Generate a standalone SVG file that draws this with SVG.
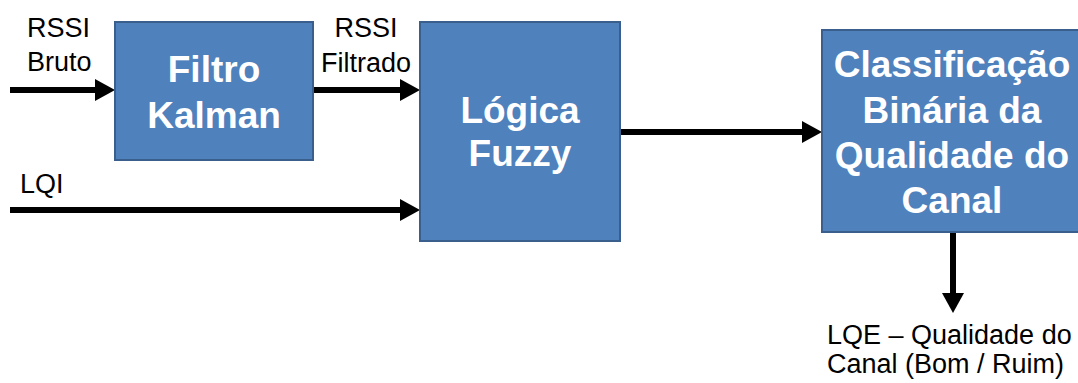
<svg xmlns="http://www.w3.org/2000/svg" width="1078" height="383" viewBox="0 0 1078 383">
  <style>
    .box { fill: #4F81BD; stroke: #3A5F8C; stroke-width: 2; }
    .boxtext { font-family: "Liberation Sans", Arial, sans-serif; font-weight: bold; font-size: 37px; fill: #FFFFFF; text-anchor: middle; }
    .label { font-family: "Liberation Sans", Arial, sans-serif; font-size: 27px; fill: #000000; }
    .wire { stroke: #000000; stroke-width: 6; fill: none; marker-end: url(#head); }
  </style>
  <defs>
    <marker id="head" markerUnits="userSpaceOnUse" markerWidth="20" markerHeight="22" refX="1" refY="11" orient="auto">
      <path d="M0,0 L20,11 L0,22 Z" fill="#000000"/>
    </marker>
  </defs>

  <rect width="1078" height="383" fill="#FFFFFF"/>

  <g id="connectors">
    <line class="wire" x1="10" y1="90" x2="96" y2="90"/>
    <line class="wire" x1="313" y1="90" x2="401" y2="90"/>
    <line class="wire" x1="10" y1="210" x2="401" y2="210"/>
    <line class="wire" x1="620" y1="132" x2="803" y2="132"/>
    <line class="wire" x1="953" y1="232" x2="953" y2="294"/>
  </g>

  <g id="filtro-kalman">
    <rect class="box" x="115" y="22" width="198" height="138"/>
    <text class="boxtext" x="214" y="82">Filtro</text>
    <text class="boxtext" x="214" y="128">Kalman</text>
  </g>

  <g id="logica-fuzzy">
    <rect class="box" x="420" y="22" width="200" height="219"/>
    <text class="boxtext" x="520" y="123">Lógica</text>
    <text class="boxtext" x="520" y="166">Fuzzy</text>
  </g>

  <g id="classificacao">
    <rect class="box" x="822" y="30" width="268" height="202"/>
    <text class="boxtext" x="952" y="77">Classificação</text>
    <text class="boxtext" x="952" y="123">Binária da</text>
    <text class="boxtext" x="952" y="168">Qualidade do</text>
    <text class="boxtext" x="952" y="213">Canal</text>
  </g>

  <g id="labels">
    <text class="label" x="27" y="37">RSSI</text>
    <text class="label" x="27" y="71">Bruto</text>
    <text class="label" x="366" y="37" text-anchor="middle">RSSI</text>
    <text class="label" x="366" y="72" text-anchor="middle">Filtrado</text>
    <text class="label" x="20" y="193">LQI</text>
    <text class="label" x="827" y="344">LQE – Qualidade do</text>
    <text class="label" x="827" y="373">Canal (Bom / Ruim)</text>
  </g>
</svg>
